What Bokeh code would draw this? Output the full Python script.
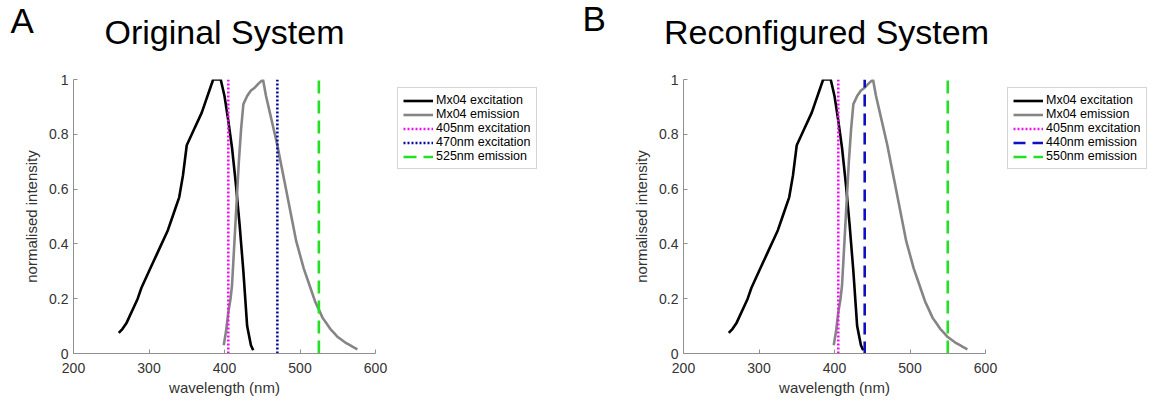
from bokeh.plotting import figure
from bokeh.layouts import row, column
from bokeh.models import Legend, LegendItem, Label, FixedTicker
from bokeh.embed import file_html
from bokeh.resources import INLINE

# Mx04 excitation spectrum
ex_wl = [260, 265, 270, 275, 280, 285, 290, 295, 300, 305, 310, 315, 320, 325, 330, 335,
         340, 345, 350, 355, 360, 365, 370, 375, 380, 385, 390, 395, 400, 405, 410, 415,
         420, 425, 430, 435, 438]
ex_val = [0.075, 0.09, 0.11, 0.14, 0.17, 0.2, 0.24, 0.27, 0.3, 0.33, 0.36, 0.39, 0.42, 0.45,
          0.49, 0.53, 0.57, 0.65, 0.76, 0.79, 0.82, 0.85, 0.88, 0.92, 0.96, 1.0, 1.0, 1.0,
          0.94, 0.85, 0.75, 0.62, 0.47, 0.3, 0.1, 0.03, 0.012]

# Mx04 emission spectrum
em_wl = [399, 402, 405, 408, 410, 413, 416, 419, 422, 425, 430, 435, 440, 445, 451, 455, 460,
         465, 470, 475, 480, 485, 490, 495, 500, 505, 510, 515, 520, 525, 530, 535, 540, 545,
         550, 555, 560, 565, 570, 576]
em_val = [0.03, 0.08, 0.15, 0.2, 0.25, 0.4, 0.55, 0.7, 0.82, 0.91, 0.94, 0.96, 0.97, 0.985,
          1.0, 0.94, 0.88, 0.82, 0.76, 0.69, 0.62, 0.55, 0.48, 0.41, 0.36, 0.31, 0.27, 0.23,
          0.19, 0.16, 0.13, 0.11, 0.09, 0.075, 0.06, 0.05, 0.04, 0.032, 0.024, 0.015]

panel_letters = ["A", "B"]
panel_titles = ["Original System", "Reconfigured System"]

# filter lines per panel: (wavelength, label, colour, dash)
filters_a = [(405, "405nm excitation", "#ee11ee", "2 2"),
             (470, "470nm excitation", "#0a0a9a", "2 2"),
             (525, "525nm emission", "#22e022", "13 7")]
filters_b = [(405, "405nm excitation", "#ee11ee", "2 2"),
             (440, "440nm emission", "#1010c0", "12 7"),
             (550, "550nm emission", "#22e022", "13 7")]

x_ticks = [200, 300, 400, 500, 600]
y_ticks = [0, 0.2, 0.4, 0.6, 0.8, 1]
y_tick_labels = ["0", "0.2", "0.4", "0.6", "0.8", "1"]

FONT = "Liberation Sans"
HEADER_H = 70
PANEL_H = 330
EX_STYLE = dict(line_color="black", line_width=2.6)
EM_STYLE = dict(line_color="#858585", line_width=2.6)


def draw_series(fig, filters):
    rs = [fig.line(ex_wl, ex_val, **EX_STYLE), fig.line(em_wl, em_val, **EM_STYLE)]
    for wl, lab, col, dash in filters:
        rs.append(fig.line([wl, wl], [0, 1], line_color=col, line_width=2.6, line_dash=dash))
    return rs


def make_panel(filters, border_left):
    p = figure(width=border_left + 302 + 14, height=PANEL_H, x_range=(200, 600),
               y_range=(0, 1), output_backend="svg", toolbar_location=None,
               min_border_left=border_left, min_border_right=14,
               min_border_top=9, min_border_bottom=47)
    p.outline_line_color = None
    p.grid.grid_line_color = None
    p.background_fill_color = "white"
    p.border_fill_color = "white"

    p.xaxis.ticker = FixedTicker(ticks=x_ticks)
    p.yaxis.ticker = FixedTicker(ticks=y_ticks)
    p.yaxis.major_label_overrides = {t: s for t, s in zip(y_ticks, y_tick_labels)}
    p.xaxis.major_label_overrides = {t: str(t) for t in x_ticks}
    for ax in (p.xaxis, p.yaxis):
        ax.axis_line_color = "#909090"
        ax.major_tick_line_color = "#909090"
        ax.major_tick_in = 4
        ax.major_tick_out = 0
        ax.minor_tick_line_color = None
        ax.major_label_text_font = FONT
        ax.major_label_text_font_size = "14px"
        ax.major_label_text_color = "#333333"
        ax.axis_label_text_font = FONT
        ax.axis_label_text_font_size = "15px"
        ax.axis_label_text_font_style = "normal"
        ax.axis_label_text_color = "#333333"
    p.xaxis.axis_label = "wavelength (nm)"
    p.yaxis.axis_label = "normalised intensity"
    p.xaxis.major_label_standoff = 9
    p.xaxis.axis_label_standoff = 3
    p.yaxis.major_label_standoff = 5
    p.yaxis.axis_label_standoff = 6

    draw_series(p, filters)
    return p


def make_legend(filters, width):
    # strip next to each panel that holds its legend; the same series are drawn here
    # but lie outside this strip's (0..1) view, so only the legend is visible
    q = figure(width=width, height=PANEL_H, x_range=(0, 1), y_range=(0, 1),
               x_axis_type=None, y_axis_type=None, output_backend="svg",
               toolbar_location=None, min_border=0)
    q.outline_line_color = None
    q.grid.grid_line_color = None
    q.border_fill_color = "white"
    q.background_fill_color = "white"
    rs = draw_series(q, filters)
    labels = ["Mx04 excitation", "Mx04 emission"] + [f[1] for f in filters]
    items = [LegendItem(label=lab, renderers=[r]) for lab, r in zip(labels, rs)]
    leg = Legend(items=items, location="top_left",
                 label_text_font=FONT, label_text_font_size="12.5px",
                 label_text_color="black", glyph_width=30, glyph_height=13,
                 label_height=13, label_standoff=3, spacing=0, padding=5, margin=8,
                 border_line_color="#aaaaaa", border_line_width=1,
                 background_fill_color="white", background_fill_alpha=1)
    q.add_layout(leg, "center")
    return q


# header with the panel letters and titles
header = figure(width=1154, height=HEADER_H, x_range=(0, 1), y_range=(0, 1),
                x_axis_type=None, y_axis_type=None, output_backend="svg",
                toolbar_location=None, min_border=0)
header.outline_line_color = None
header.grid.grid_line_color = None
header.border_fill_color = "white"
header.background_fill_color = "white"
title_pos = [(224, 39), (826, 39)]
letter_pos = [(10, 50), (582, 52)]
for (tx, ty), t in zip(title_pos, panel_titles):
    header.add_layout(Label(x=tx, y=ty, x_units="screen", y_units="screen", text=t,
                            text_font=FONT, text_font_size="34px", text_align="center",
                            text_baseline="alphabetic", text_color="black"))
for (lx, ly), t in zip(letter_pos, panel_letters):
    header.add_layout(Label(x=lx, y=ly, x_units="screen", y_units="screen", text=t,
                            text_font=FONT, text_font_size="35px", text_align="left",
                            text_baseline="alphabetic", text_color="black"))

pa = make_panel(filters_a, 73)          # 389 px wide
la = make_legend(filters_a, 575 - 389)
pb = make_panel(filters_b, 108)         # 424 px wide
lb = make_legend(filters_b, 1154 - 575 - 424)

layout = column(header, row(pa, la, pb, lb, spacing=0), spacing=0)
open("out.html", "w").write(file_html(layout, INLINE))
